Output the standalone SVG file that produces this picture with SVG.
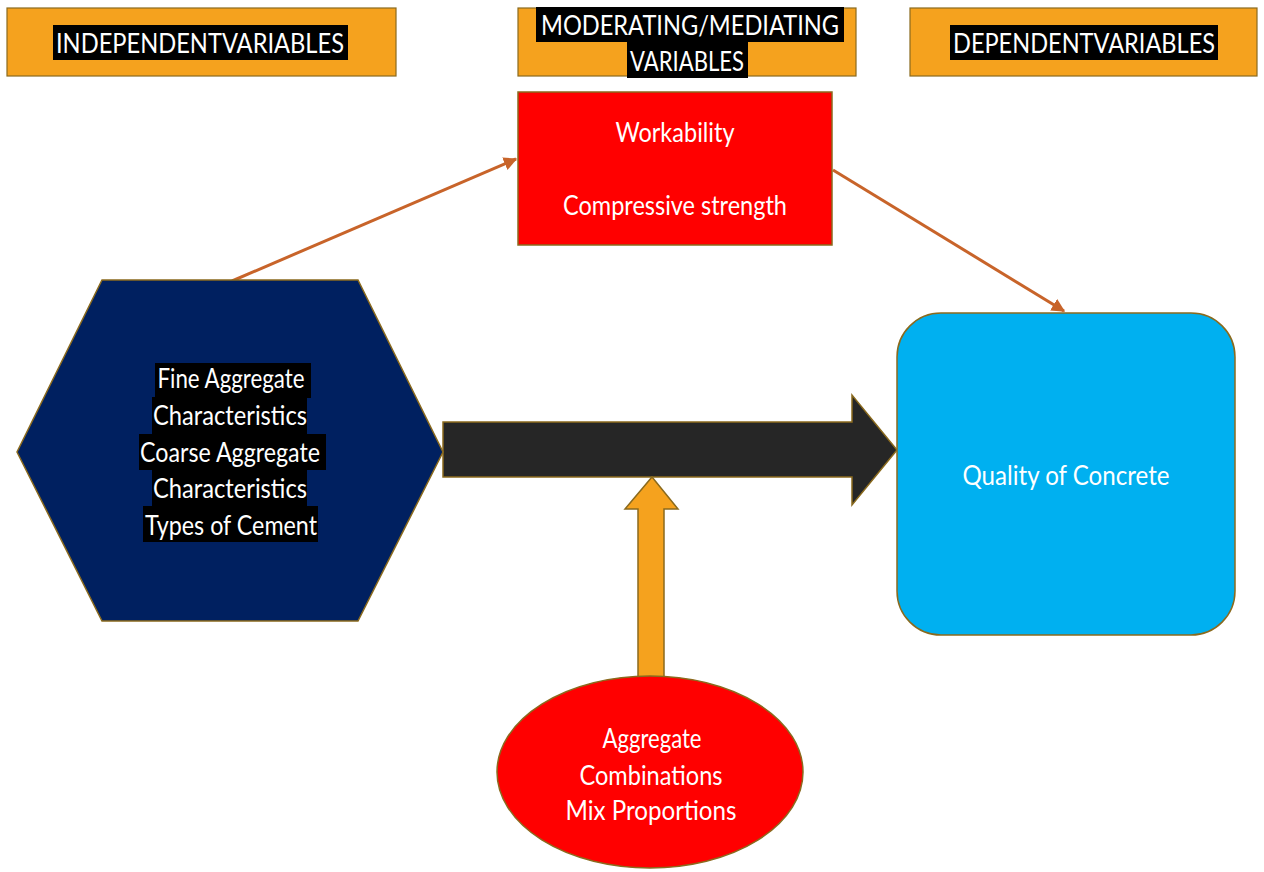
<svg xmlns="http://www.w3.org/2000/svg" width="1264" height="872" viewBox="0 0 1264 872">
<style>
.hdr{fill:#F5A21E;stroke:#8A6A1E;stroke-width:1.2}
.bg{fill:#000}
.t{font-family:Lato,"Liberation Sans",sans-serif;fill:#fff;text-anchor:middle}
.h{font-size:27px}
.b{font-size:26px}
.conn{stroke:#C8642A;stroke-width:3;fill:none}
.edge{stroke:#8A6A1E;stroke-width:1.5}
</style>
<defs>
<marker id="ah" viewBox="0 0 10 10" refX="9" refY="5" markerWidth="4.5" markerHeight="4.5" orient="auto" markerUnits="strokeWidth">
<path d="M0,0 L10,5 L0,10 z" fill="#C8642A"/>
</marker>
</defs>
<rect width="1264" height="872" fill="#fff"/>

<g id="hdr-independent">
<rect class="hdr" x="7" y="8" width="389" height="68"/>
<rect class="bg" x="53" y="25" width="295" height="35"/>
<text class="t h" x="200" y="53" textLength="288" lengthAdjust="spacingAndGlyphs">INDEPENDENTVARIABLES</text>
</g>

<g id="hdr-moderating">
<rect class="hdr" x="518" y="8" width="338" height="68"/>
<rect class="bg" x="536" y="7" width="308" height="35"/>
<rect class="bg" x="627" y="42" width="121" height="36"/>
<text class="t h" x="690" y="35" textLength="298" lengthAdjust="spacingAndGlyphs">MODERATING/MEDIATING</text>
<text class="t h" x="687" y="71" textLength="114" lengthAdjust="spacingAndGlyphs">VARIABLES</text>
</g>

<g id="hdr-dependent">
<rect class="hdr" x="910" y="8" width="347" height="68"/>
<rect class="bg" x="950" y="25" width="268" height="35"/>
<text class="t h" x="1084" y="53" textLength="262" lengthAdjust="spacingAndGlyphs">DEPENDENTVARIABLES</text>
</g>

<g id="connectors">
<line class="conn" x1="232" y1="281" x2="516" y2="159" marker-end="url(#ah)"/>
<line class="conn" x1="833" y1="170" x2="1064" y2="311" marker-end="url(#ah)"/>
<path class="edge" d="M443,422 L852,422 L852,395 L897,450 L852,505 L852,477 L443,477 Z" fill="#262626"/>
<path class="edge" d="M652,477 L678,509 L664,509 L664,678 L638,678 L638,509 L625,509 Z" fill="#F5A21E"/>
</g>

<g id="node-workability">
<rect x="518" y="92" width="314" height="153" fill="#FF0000" class="edge"/>
<text class="t b" x="675" y="142" textLength="119" lengthAdjust="spacingAndGlyphs">Workability</text>
<text class="t b" x="675" y="215" textLength="224" lengthAdjust="spacingAndGlyphs">Compressive strength</text>
</g>

<g id="node-independent">
<polygon points="102,280 358,280 443,452 358,621 102,621 17,452" fill="#002060" class="edge"/>
<rect class="bg" x="155" y="363" width="156" height="35"/>
<rect class="bg" x="152" y="397" width="155" height="37"/>
<rect class="bg" x="139" y="434" width="187" height="36"/>
<rect class="bg" x="152" y="470" width="155" height="36"/>
<rect class="bg" x="143" y="506" width="175" height="36"/>
<text class="t b" x="231" y="388" textLength="147" lengthAdjust="spacingAndGlyphs">Fine Aggregate</text>
<text class="t b" x="230" y="425" textLength="154" lengthAdjust="spacingAndGlyphs">Characteristics</text>
<text class="t b" x="230" y="462" textLength="180" lengthAdjust="spacingAndGlyphs">Coarse Aggregate</text>
<text class="t b" x="230" y="498" textLength="154" lengthAdjust="spacingAndGlyphs">Characteristics</text>
<text class="t b" x="231" y="535" textLength="172" lengthAdjust="spacingAndGlyphs">Types of Cement</text>
</g>

<g id="node-mix">
<ellipse cx="650" cy="772" rx="153" ry="96" fill="#FF0000" class="edge"/>
<text class="t b" x="652" y="748" textLength="99" lengthAdjust="spacingAndGlyphs">Aggregate</text>
<text class="t b" x="651" y="785" textLength="143" lengthAdjust="spacingAndGlyphs">Combinations</text>
<text class="t b" x="651" y="820" textLength="171" lengthAdjust="spacingAndGlyphs">Mix Proportions</text>
</g>

<g id="node-quality">
<rect x="897" y="313" width="338" height="322" rx="44" ry="44" fill="#00B0F0" class="edge"/>
<text class="t b" x="1066" y="485" textLength="207" lengthAdjust="spacingAndGlyphs">Quality of Concrete</text>
</g>
</svg>
